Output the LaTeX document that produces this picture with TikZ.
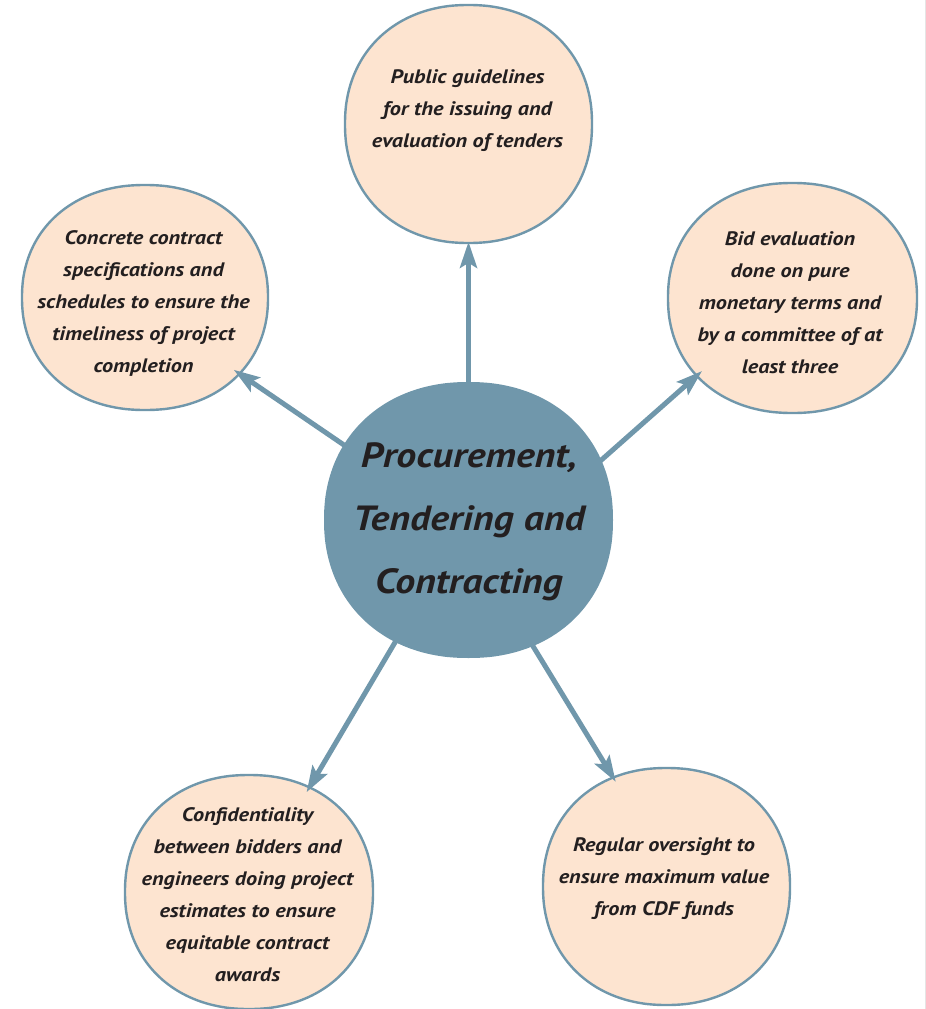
\documentclass[tikz,border=0pt]{standalone}
\usepackage{fontspec}
\setmainfont{PT Sans}[FakeStretch=1.14]
\usetikzlibrary{arrows.meta,shapes.geometric}
\definecolor{bblue}{HTML}{7097AB}
\definecolor{peach}{HTML}{FDE4D0}
\definecolor{ink}{HTML}{231F20}
\newcommand\myblob[5]{\path[#5] plot[smooth cycle, domain=2.5:357.5, samples=72, variable=\t]
  ({#1+#3*sign(cos(\t))*pow(abs(cos(\t)),0.93)}, {#2+#4*sign(sin(\t))*pow(abs(sin(\t)),0.93)});}
\tikzset{
  outerblob/.style={fill=peach, draw=bblue, line width=2.4pt},
  centreblob/.style={fill=bblue},
  anch/.style={ellipse, draw=none, inner sep=0pt, outer sep=0pt},
  txt/.style={text=ink, align=center, inner sep=0pt, font=\bfseries\itshape\fontsize{19.5}{32}\selectfont},
  ctxt/.style={text=ink, align=center, inner sep=0pt, font=\bfseries\itshape\fontsize{35}{63}\selectfont},
  arr/.style={draw=bblue, line width=5pt, -{Stealth[length=26pt, width=17pt, inset=5pt]}}
}
\begin{document}
\begin{tikzpicture}[x=1pt,y=-1pt]
\useasboundingbox (0,0) rectangle (926,1009);
\draw[black!10, line width=1pt] (925.5,0) -- (925.5,1009);
% shapes
\myblob{468.5}{520}{144.5}{138}{centreblob}
\myblob{468.5}{124}{123.5}{119}{outerblob}
\myblob{145}{297.5}{123}{112.5}{outerblob}
\myblob{792.5}{298}{124.5}{115}{outerblob}
\myblob{249}{892}{124}{117}{outerblob}
\myblob{666.5}{886.5}{123.5}{118.5}{outerblob}
% anchor nodes of the shapes
\node[anch, minimum width=289pt, minimum height=276pt] (c) at (468.5,520) {};
\node[anch, minimum width=247pt, minimum height=238pt] (t) at (468.5,124) {};
\node[anch, minimum width=246pt, minimum height=225pt] (tl) at (145,297.5) {};
\node[anch, minimum width=249pt, minimum height=230pt] (tr) at (792.5,298) {};
\node[anch, minimum width=248pt, minimum height=234pt] (bl) at (249,892) {};
\node[anch, minimum width=247pt, minimum height=237pt] (br) at (666.5,886.5) {};
% texts
\node[ctxt] (ct) at (469,522) {Procurement,\\Tendering and\\Contracting};
\node[txt] (tt) at (467.5,111) {Public guidelines\\for the issuing and\\evaluation of tenders};
\node[txt] (tlt) at (143.5,303) {Concrete contract\\specifications and\\schedules to ensure the\\timeliness of project\\completion};
\node[txt] (trt) at (790,303) {Bid evaluation\\done on pure\\monetary terms and\\by a committee of at\\least three};
\node[txt] (blt) at (247.5,895) {Confidentiality\\between bidders and\\engineers doing project\\estimates to ensure\\equitable contract\\awards};
\node[txt] (brt) at (664,879) {Regular oversight to\\ensure maximum value\\from CDF funds};
% connectors
\draw[arr, shorten >=-1.2pt] (c.north) -- (t.south);
\draw[arr, shorten >=-4pt] (c.149.1) -- (tl.-39.4);
\draw[arr, shorten >=-4.2pt] (c.24.5) -- (tr.-141.8);
\draw[arr, shorten >=-3.4pt] (c.-121.7) -- (bl.60);
\draw[arr, shorten >=-3.1pt] (c.-63.6) -- (br.116.05);
\end{tikzpicture}
\end{document}
